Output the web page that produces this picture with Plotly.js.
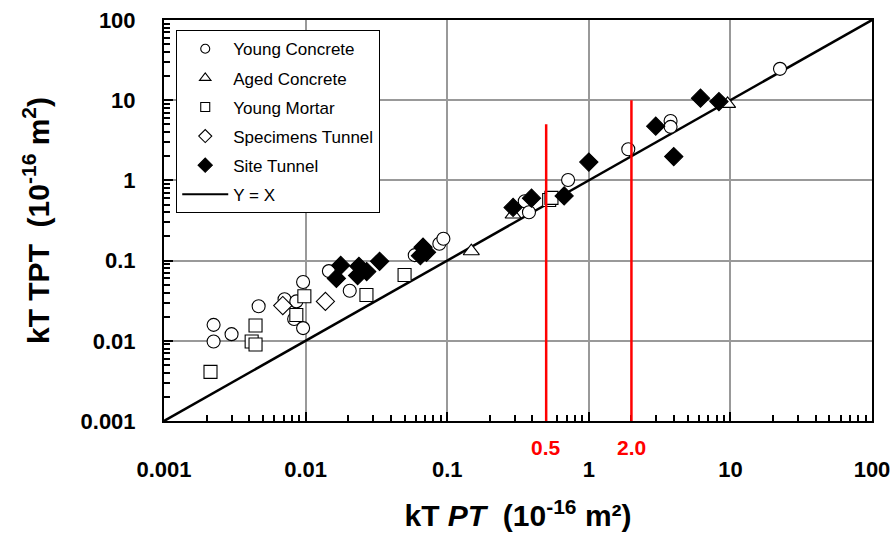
<!DOCTYPE html>
<html>
<head>
<meta charset="utf-8">
<script src="https://cdn.plot.ly/plotly-3.0.1.min.js"></script>
<style>html,body{margin:0;padding:0;background:#fff;}</style>
</head>
<body>
<div id="chart" style="width:896px;height:533px;"></div>
<script>
// Young Concrete
const ycX = [0.00224, 0.00224, 0.0030, 0.00466, 0.0071, 0.0086, 0.0083, 0.0096, 0.0096, 0.0146, 0.0205, 0.059, 0.088, 0.094, 0.353, 0.378, 0.714, 1.9, 3.78, 3.78, 22.4];
const ycY = [0.0158, 0.0098, 0.0121, 0.027, 0.033, 0.031, 0.0187, 0.054, 0.0144, 0.074, 0.042, 0.117, 0.162, 0.187, 0.55, 0.40, 1.01, 2.45, 5.5, 4.65, 24.6];
// Aged Concrete
const acX = [0.148, 0.292, 9.55];
const acY = [0.131, 0.375, 9.0];
// Young Mortar
const ymX = [0.00213, 0.00443, 0.00416, 0.00443, 0.0098, 0.0086, 0.0269, 0.050, 0.525, 0.545];
const ymY = [0.0041, 0.0155, 0.0098, 0.0090, 0.036, 0.021, 0.0373, 0.066, 0.57, 0.605];
// Specimens Tunnel
const stX = [0.0069, 0.0138];
const stY = [0.0275, 0.031];
// Site Tunnel
const siteX = [0.0177, 0.0165, 0.0238, 0.0233, 0.027, 0.0333, 0.0647, 0.0675, 0.0714, 0.292, 0.394, 0.67, 1.0, 2.97, 3.98, 6.15, 8.3];
const siteY = [0.087, 0.060, 0.085, 0.065, 0.073, 0.098, 0.115, 0.147, 0.127, 0.46, 0.60, 0.64, 1.69, 4.74, 1.98, 10.6, 9.6];
// Y = X line
const lineX = [0.001, 100];
const lineY = [0.001, 100];
// Red reference lines
const refX = [0.5, 2.0];
const refTop = [5, 10];
const refLabels = ["0.5", "2.0"];
// Series names
const names = ["Young Concrete", "Aged Concrete", "Young Mortar", "Specimens Tunnel", "Site Tunnel", "Y = X"];

const F = "Arial, 'Liberation Sans', sans-serif";
const mk = (symbol, fill, size) => ({symbol: symbol, size: size, color: fill, line: {color: 'black', width: 1.1}});

const dataSets = [
  {x: ycX, y: ycY, sym: 'circle', fill: 'white', size: 13, lsize: 9},
  {x: acX, y: acY, sym: 'triangle-up', fill: 'white', size: 14, lsize: 10},
  {x: ymX, y: ymY, sym: 'square', fill: 'white', size: 13, lsize: 9},
  {x: stX, y: stY, sym: 'diamond', fill: 'white', size: 14, lsize: 10},
  {x: siteX, y: siteY, sym: 'diamond', fill: 'black', size: 14, lsize: 11}
];

const traces = [
  {x: lineX, y: lineY, mode: 'lines', name: names[5], showlegend: false, line: {color: 'black', width: 2.5}}
];
dataSets.forEach((d, i) => {
  traces.push({x: d.x, y: d.y, mode: 'markers', name: names[i], showlegend: false, marker: mk(d.sym, d.fill, d.size)});
});
// legend-only entries (no visible points)
dataSets.forEach((d, i) => {
  traces.push({x: [null], y: [null], mode: 'markers', name: names[i], legendgroup: 'g' + i, legendrank: i + 1, marker: mk(d.sym, d.fill, d.lsize)});
});
traces.push({x: [null], y: [null], mode: 'lines', name: names[5], legendgroup: 'g5', legendrank: 6, line: {color: 'black', width: 2}});

const shapes = refX.map((xv, i) => ({type: 'line', xref: 'x', yref: 'y', x0: xv, x1: xv, y0: 0.001, y1: refTop[i], line: {color: 'red', width: 2.5}}));

const annotations = refX.map((xv, i) => ({x: Math.log10(xv), xref: 'x', y: -0.066, yref: 'paper', text: '<b>' + refLabels[i] + '</b>', showarrow: false, font: {family: F, size: 21, color: 'red'}, xanchor: 'center', yanchor: 'middle'}));

const axisCommon = {
  type: 'log', showline: true, linecolor: 'black', linewidth: 2, mirror: true,
  showgrid: true, gridcolor: '#999999', gridwidth: 1.5, zeroline: false,
  ticks: 'inside', ticklen: 9, tickwidth: 1.5, tickcolor: 'black',
  tickmode: 'linear', tick0: 0, dtick: 1, exponentformat: 'none',
  tickfont: {family: F, size: 22, color: 'black', weight: 'bold'},
  minor: {ticks: 'inside', ticklen: 6, tickwidth: 1.5, tickcolor: 'black', showgrid: false}
};

const layout = {
  width: 896, height: 533,
  margin: {l: 164, r: 24, t: 20, b: 112},
  paper_bgcolor: 'white', plot_bgcolor: 'white',
  showlegend: true,
  legend: {x: 0.017, y: 0.975, xanchor: 'left', yanchor: 'top', bgcolor: 'white', bordercolor: 'black', borderwidth: 1.2,
           font: {family: F, size: 17, color: 'black'}, traceorder: 'grouped', tracegroupgap: 4, itemwidth: 46},
  xaxis: Object.assign({}, axisCommon, {range: [-3, 2], ticklabelstandoff: 28,
    title: {text: '<b>kT <i>PT</i>  (10<sup>-16</sup> m²)</b>', font: {family: F, size: 30, color: 'black'}, standoff: 24}}),
  yaxis: Object.assign({}, axisCommon, {range: [-3, 2], ticklabelstandoff: 22,
    title: {text: '<b>kT TPT  (10<sup>-16</sup> m<sup>2</sup>)</b>', font: {family: F, size: 30, color: 'black'}, standoff: 22}}),
  shapes: shapes,
  annotations: annotations
};

Plotly.newPlot('chart', traces, layout, {displayModeBar: false});
</script>
</body>
</html>
